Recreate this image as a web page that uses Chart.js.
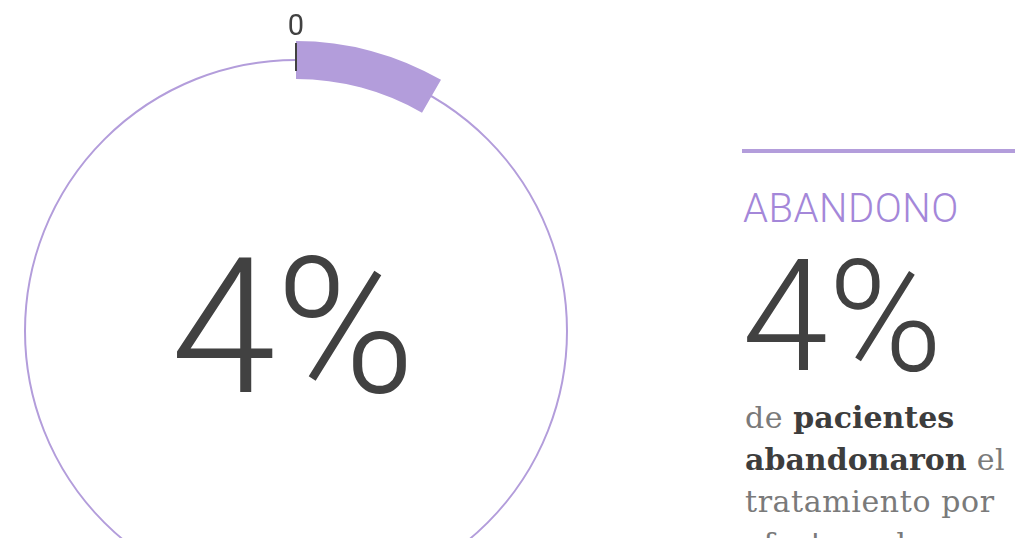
<!DOCTYPE html>
<html lang="es">
<head>
<meta charset="utf-8">
<script src="https://cdn.jsdelivr.net/npm/chart.js@4/dist/chart.umd.min.js"></script>
<style>
  html, body { margin: 0; padding: 0; background: #fff; }
  body { width: 1015px; height: 538px; overflow: hidden; position: relative; }
  #wrap { position: absolute; left: 6px; top: 0px; width: 580px; height: 621px; }
  .center { position: absolute; left: 0; width: 586px; top: 233px; text-align: center;
            font-family: Roboto, sans-serif; font-weight: 300; font-size: 189px; line-height: 189px; color: #414141; }
  .rule { position: absolute; left: 742px; top: 149px; width: 273px; height: 4px; background: #b39ddb; }
  .kicker { position: absolute; left: 743px; top: 189px; font-family: Roboto, sans-serif; font-weight: 300;
            font-size: 40px; line-height: 40px; color: #a487d9; white-space: nowrap; letter-spacing: 0.5px; }
  .big { position: absolute; left: 742px; top: 240px; font-family: Roboto, sans-serif; font-weight: 300;
         font-size: 155px; line-height: 155px; color: #414141; white-space: nowrap; }
  .desc { position: absolute; left: 745px; top: 397px; width: 272px; font-family: "DejaVu Serif", serif;
          font-size: 30px; line-height: 42px; color: #7a7a7a; letter-spacing: 0.6px; }
  .desc b { color: #3d3d3d; font-weight: bold; letter-spacing: 0; }
</style>
</head>
<body>
<div id="wrap"><canvas id="c"></canvas></div>
<div class="center" id="centerLabel"></div>
<div class="rule"></div>
<div class="kicker" id="kicker"></div>
<div class="big" id="bigLabel"></div>
<div class="desc">de <b>pacientes abandonaron</b> el tratamiento por efectos adversos</div>
<script>
// ---- data ----
const categories = ['Abandono', 'Resto de la escala'];
const values = [4, 44];          // highlighted arc = 4, remainder of gauge scale
const tickLabels = ['0'];
const title = 'ABANDONO';
const valueLabel = '4%';

const purple = '#b39ddb';
const dark = '#414141';

document.getElementById('centerLabel').textContent = valueLabel;
document.getElementById('bigLabel').textContent = valueLabel;
document.getElementById('kicker').textContent = title;

const gaugePlugin = {
  id: 'gaugeDecor',
  beforeDatasetsDraw(chart) {
    const arc = chart.getDatasetMeta(0).data[0];
    if (!arc) return;
    const { x, y, innerRadius, outerRadius } = arc.getProps(['x','y','innerRadius','outerRadius'], true);
    const ctx = chart.ctx;
    ctx.save();
    ctx.beginPath();
    ctx.arc(x, y, (innerRadius + outerRadius) / 2, 0, Math.PI * 2);
    ctx.lineWidth = 2;
    ctx.strokeStyle = purple;
    ctx.stroke();
    ctx.restore();
  },
  afterDatasetsDraw(chart) {
    const arc = chart.getDatasetMeta(0).data[0];
    if (!arc) return;
    const { x, y, innerRadius, outerRadius, startAngle } = arc.getProps(['x','y','innerRadius','outerRadius','startAngle'], true);
    const ctx = chart.ctx;
    ctx.save();
    const r1 = outerRadius - 2, r0 = innerRadius + 8;
    ctx.beginPath();
    ctx.moveTo(x + Math.cos(startAngle) * r0, y + Math.sin(startAngle) * r0);
    ctx.lineTo(x + Math.cos(startAngle) * r1, y + Math.sin(startAngle) * r1);
    ctx.lineWidth = 2;
    ctx.strokeStyle = dark;
    ctx.stroke();
    ctx.fillStyle = dark;
    ctx.font = '29px Roboto, sans-serif';
    ctx.textAlign = 'center';
    ctx.textBaseline = 'alphabetic';
    const rl = outerRadius + 6;
    ctx.fillText(tickLabels[0], x + Math.cos(startAngle) * rl, y + Math.sin(startAngle) * rl);
    ctx.restore();
  }
};

new Chart(document.getElementById('c'), {
  type: 'doughnut',
  data: {
    labels: categories,
    datasets: [{
      data: values,
      backgroundColor: [purple, 'rgba(0,0,0,0)'],
      borderWidth: 0,
      hoverOffset: 0
    }]
  },
  options: {
    responsive: true,
    maintainAspectRatio: false,
    animation: false,
    cutout: 252,
    rotation: 0,
    layout: { padding: { top: 41 } },
    plugins: { legend: { display: false }, tooltip: { enabled: false } },
    events: []
  },
  plugins: [gaugePlugin]
});
</script>
</body>
</html>
